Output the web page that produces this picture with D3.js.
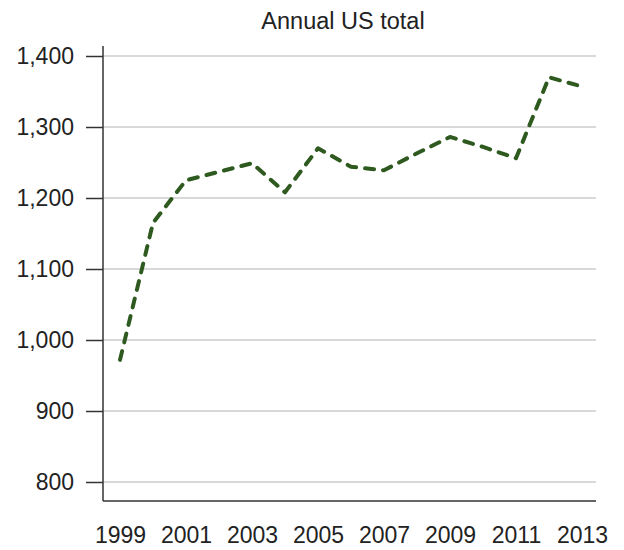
<!DOCTYPE html>
<html>
<head>
<meta charset="utf-8">
<script src="https://cdn.jsdelivr.net/npm/d3@7"></script>
<style>
  body { margin: 0; background: #fff; }
  text { font-family: "Liberation Sans", Arial, Helvetica, sans-serif; fill: #222; }
</style>
</head>
<body>
<svg id="chart" width="624" height="550"></svg>
<script>
const years = [1999, 2000, 2001, 2002, 2003, 2004, 2005, 2006, 2007, 2008, 2009, 2010, 2011, 2012, 2013];
const totals = [972, 1165, 1225, 1237, 1249, 1208, 1270, 1244, 1239, 1263, 1286, 1272, 1256, 1370, 1357];
const yTicks = [800, 900, 1000, 1100, 1200, 1300, 1400];
const xTicks = [1999, 2001, 2003, 2005, 2007, 2009, 2011, 2013];
const title = "Annual US total";

const svg = d3.select("#chart");
const left = 103, right = 596, axisY = 501;

const x = d3.scaleLinear().domain([1999, 2013]).range([120, 582]);
const y = d3.scaleLinear().domain([800, 1400]).range([482, 56]);

// gridlines
svg.append("g").selectAll("line").data(yTicks).join("line")
  .attr("x1", left).attr("x2", right)
  .attr("y1", d => y(d)).attr("y2", d => y(d))
  .attr("stroke", "#cccccc").attr("stroke-width", 1.5);

// y axis
const yAxis = svg.append("g").attr("transform", `translate(${left},0)`)
  .call(d3.axisLeft(y).tickValues(yTicks).tickSize(17).tickPadding(12).tickFormat(d3.format(",")));
yAxis.attr("font-size", 23).attr("font-family", '"Liberation Sans", Arial, sans-serif');
yAxis.select(".domain").remove();
yAxis.selectAll(".tick line").attr("stroke", "#333").attr("stroke-width", 1.5);
yAxis.selectAll(".tick text").attr("fill", "#222");

// axis lines
svg.append("line").attr("x1", left).attr("x2", left).attr("y1", 46).attr("y2", axisY)
  .attr("stroke", "#333").attr("stroke-width", 1.5);
svg.append("line").attr("x1", left).attr("x2", right).attr("y1", axisY).attr("y2", axisY)
  .attr("stroke", "#333").attr("stroke-width", 1.5);

// x axis labels
const xAxis = svg.append("g").attr("transform", `translate(0,${axisY})`)
  .call(d3.axisBottom(x).tickValues(xTicks).tickSize(0).tickPadding(26).tickFormat(d3.format("d")));
xAxis.attr("font-size", 23).attr("font-family", '"Liberation Sans", Arial, sans-serif');
xAxis.select(".domain").remove();
xAxis.selectAll(".tick text").attr("fill", "#222");

// line
const line = d3.line().x((d, i) => x(years[i])).y(d => y(d));
svg.append("path").datum(totals)
  .attr("d", line)
  .attr("fill", "none")
  .attr("stroke", "#2e5a1f")
  .attr("stroke-width", 4)
  .attr("stroke-linecap", "round")
  .attr("stroke-linejoin", "round")
  .attr("stroke-dasharray", "9,9");

// title
svg.append("text").attr("x", 343).attr("y", 29).attr("text-anchor", "middle")
  .attr("font-size", 23.5).text(title);
</script>
</body>
</html>
